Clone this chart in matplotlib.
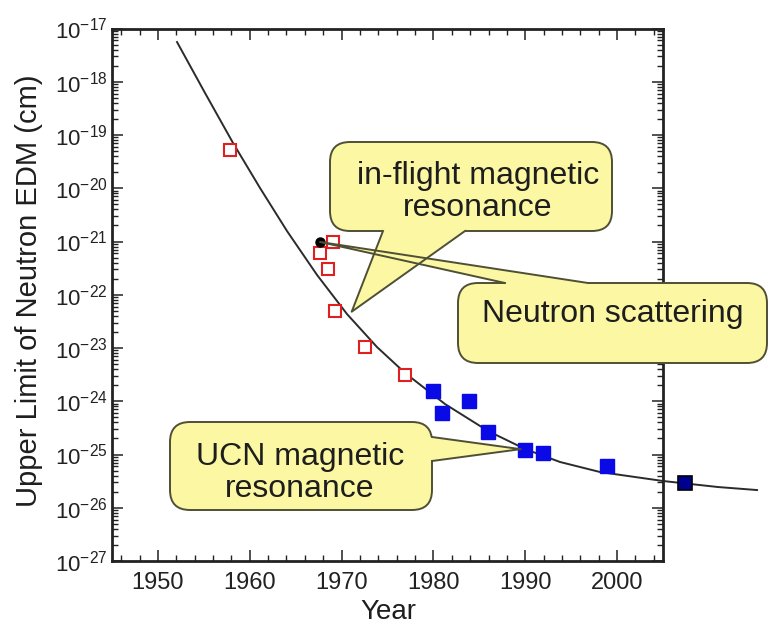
import numpy as np
import matplotlib
matplotlib.use('Agg')
import matplotlib.pyplot as plt
from matplotlib.patches import FancyBboxPatch, Polygon
from matplotlib.lines import Line2D
from matplotlib.transforms import IdentityTransform
from matplotlib.ticker import MultipleLocator, FuncFormatter, NullFormatter

plt.rcParams['font.family'] = ['Liberation Sans', 'DejaVu Sans']

# in-flight / scattering measurements (open red squares)
red_years = [1957.85, 1969.07, 1967.65, 1968.52, 1969.28, 1972.55, 1976.91]
red_limits = [5.2e-20, 9.8e-22, 6.0e-22, 3.0e-22, 4.9e-23, 1.05e-23, 3.1e-24]

# neutron scattering point
scat_years = [1967.65]
scat_limits = [9.8e-22]

# UCN measurements (blue squares)
ucn_years = [1979.96, 1980.94, 1983.88, 1985.95, 1989.97, 1991.93, 1998.90]
ucn_limits = [1.55e-24, 6.0e-25, 1.0e-24, 2.6e-25, 1.2e-25, 1.07e-25, 6.0e-26]

# latest result
new_years = [2007.4]
new_limits = [2.9e-26]

# trend curve
curve_years = [1952.08, 1955.13, 1958.18, 1961.12, 1964.06, 1967.33, 1970.59, 1973.86,
               1976.91, 1981.26, 1985.95, 1989.97, 1993.79, 1998.14, 2005.00, 2010.99,
               2015.24]
curve_limits = [5.57e-18, 6.15e-19, 7.08e-20, 1.01e-20, 1.57e-21, 2.35e-22, 4.34e-23,
                1.04e-23, 3.40e-24, 8.87e-25, 2.76e-25, 1.27e-25, 7.23e-26, 4.69e-26,
                3.18e-26, 2.45e-26, 2.15e-26]

decades = list(range(-27, -16))

W, H = 768, 627
fill = '#fbf7a2'
edge = '#4f4f35'
txt = '#1e1e1e'

fig = plt.figure(figsize=(W / 100, H / 100), dpi=100)
ax = fig.add_axes([112 / W, 1 - 561 / H, (663 - 112) / W, (561 - 28.5) / H])
ax.set_yscale('log')
ax.set_xlim(1945, 2005)
ax.set_ylim(1e-27, 1e-17)

ax.plot(curve_years, curve_limits, color='#2b2b2b', lw=1.4, clip_on=False, zorder=2)
ax.plot(red_years, red_limits, 's', ms=8, mfc='white', mec='#e02020', mew=1.5, zorder=3)
ax.plot(scat_years, scat_limits, 'o', ms=6.5, color='black', zorder=4)
ax.plot(ucn_years, ucn_limits, 's', ms=9.5, color='#0a0ae6', mec='#0a0ae6', zorder=3)
ax.plot(new_years, new_limits, 's', ms=10, mfc='#000090', mec='black', mew=1.2,
        clip_on=False, zorder=3)

ax.xaxis.set_major_locator(MultipleLocator(10))
ax.xaxis.set_minor_locator(MultipleLocator(2))
ax.set_yticks([10.0 ** d for d in decades])
ax.set_yticks([m * 10.0 ** d for d in decades[:-1] for m in range(2, 10)], minor=True)
ax.yaxis.set_minor_formatter(NullFormatter())
ax.yaxis.set_major_formatter(FuncFormatter(
    lambda v, p: r'$\mathregular{10^{%d}}$' % round(np.log10(v))))

ax.tick_params(which='both', direction='in', top=True, right=True, colors='#222222')
ax.tick_params(which='major', length=8, width=1.1)
ax.tick_params(which='minor', length=4, width=1)
ax.tick_params(axis='x', labelsize=17, pad=8)
ax.tick_params(axis='y', labelsize=16, pad=3)
for s in ax.spines.values():
    s.set_linewidth(2)
    s.set_color('#222222')

fig.text(29 / W, 1 - 291 / H, 'Upper Limit of Neutron EDM (cm)', rotation=90,
         ha='center', va='center', fontsize=21, color=txt)
fig.text(388 / W, 1 - 612 / H, 'Year', ha='center', va='center', fontsize=20, color=txt)


def px(x, y):
    return (x, H - y)


def callout(box, base, inward, tip_data, label, text_xy):
    x0, y0, x1, y1 = box
    fig.add_artist(FancyBboxPatch(px(x0, y1), x1 - x0, y1 - y0,
                                  boxstyle='round,pad=0,rounding_size=20',
                                  transform=IdentityTransform(), fc=fill, ec=edge,
                                  lw=1.4, zorder=5))
    tip = ax.transData.transform(tip_data)
    b1, b2 = px(*base[0]), px(*base[1])
    i1 = (b1[0] + inward[0], b1[1] - inward[1])
    i2 = (b2[0] + inward[0], b2[1] - inward[1])
    fig.add_artist(Polygon([i1, b1, tip, b2, i2], closed=True, fc=fill, ec='none',
                           transform=IdentityTransform(), zorder=6))
    fig.add_artist(Line2D([b1[0], tip[0], b2[0]], [b1[1], tip[1], b2[1]], color=edge,
                          lw=1.4, transform=IdentityTransform(), zorder=7))
    fig.text(text_xy[0] / W, 1 - text_xy[1] / H, label, ha='center', va='center',
             fontsize=23, color=txt, linespacing=1.1, zorder=8)


callout((330, 142, 612, 231), [(383, 231), (465, 231)], (0, -4), (1971.1, 4.8e-23),
        'in-flight magnetic\nresonance', (478, 192))
callout((458, 283, 767, 363), [(505, 283), (588, 283)], (0, 4), (1967.65, 9.8e-22),
        'Neutron scattering', (613, 314))
callout((170, 422, 432, 510), [(432, 437), (432, 461)], (-4, 0), (1989.5, 1.26e-25),
        'UCN magnetic\nresonance', (300, 473))

fig.savefig('out.png', dpi=100)
